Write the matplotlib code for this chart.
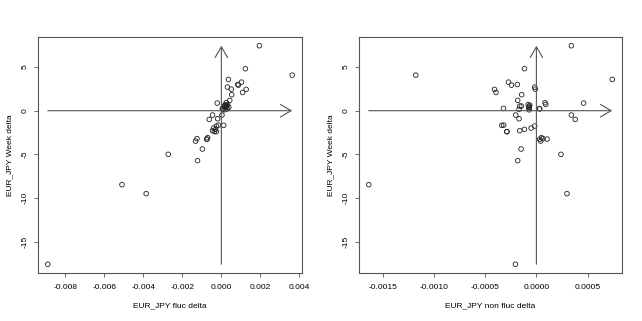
import matplotlib
matplotlib.use('Agg')
import matplotlib.pyplot as plt
import numpy as np

# semana (y) y deltas de fluc / non fluc (x)
week_delta = [7.44, 4.07, 4.81, 3.58, 3.27, 2.93, 3.00, 2.70, 2.47, 2.44,
              2.09, 1.83, 1.18, 0.87, 0.92, 0.72, 0.26, 0.53, 0.53, 0.15,
              0.10, 0.30, 0.50, 0.62, 0.70, 0.20, 0.25, 0.40, -0.50, -0.50,
              -1.00, -0.92, -1.68, -1.65, -1.76, -1.99, -2.14, -2.29, -2.40, -2.40,
              -3.09, -3.28, -3.20, -3.48, -3.25, -4.39, -5.00, -5.72, -8.47, -9.50,
              -17.59]
fluc_delta = [0.00195, 0.00363, 0.00123, 0.00036, 0.00103, 0.00087, 0.00084, 0.00031, 0.00051, 0.00127,
              0.00109, 0.00053, 0.00043, -0.00021, 0.00025, 0.00032, 0.00005, 0.00018, 0.00028, 0.00008,
              0.00015, 0.00022, 0.00012, 0.00026, 0.00020, 0.00030, 0.00010, 0.00038, -0.00045, 0.00003,
              -0.00062, -0.00019, 0.00012, -0.00015, -0.00025, -0.00040, -0.00030, -0.00045, -0.00026, -0.00036,
              -0.00070, -0.00075, -0.00125, -0.00132, -0.00074, -0.00097, -0.00272, -0.00122, -0.00509, -0.00385,
              -0.00889]
non_fluc_delta = [0.000342, -0.00118, -0.000117, 0.000742, -0.000273, -0.000244, -0.000186, -0.000017, -0.00001, -0.00041,
                  -0.000395, -0.000144, -0.000183, 0.000462, 0.000084, 0.000091, -0.000322, -0.000163, -0.000146, -0.00017,
                  -0.00007, -0.000075, -0.00007, -0.000065, -0.00008, 0.000032, 0.00003, -0.00007, -0.000202, 0.000342,
                  0.00038, -0.00017, -0.000339, -0.00032, -0.000017, -0.000052, -0.000117, -0.000163, -0.000288, -0.00029,
                  0.000049, 0.000032, 0.000064, 0.000042, 0.000104, -0.00015, 0.00024, -0.000183, -0.00164, 0.000299,
                  -0.000205]

x_ticks1 = [-0.008, -0.006, -0.004, -0.002, 0.000, 0.002, 0.004]
x_ticks2 = [-0.0015, -0.0010, -0.0005, 0.0000, 0.0005]
y_ticks = [-15, -10, -5, 0, 5]

plt.rcParams['font.family'] = ['Liberation Sans', 'DejaVu Sans']
plt.rcParams['font.size'] = 6

gris = '#555555'

fig = plt.figure(figsize=(6.42, 3.21), dpi=100)
ax1 = fig.add_axes([38 / 642, 48 / 321, 264 / 642, 236 / 321])
ax2 = fig.add_axes([359 / 642, 48 / 321, 263 / 642, 236 / 321])


def dibuja(ax, x, y, ticks, fmt, etiqueta):
    x = np.array(x)
    y = np.array(y)
    ax.scatter(x, y, s=11, facecolors='none', edgecolors='#222222', linewidths=0.6, zorder=3)

    # limites como en R (4%)
    dx = (x.max() - x.min()) * 0.04
    dy = (y.max() - y.min()) * 0.04
    ax.set_xlim(x.min() - dx, x.max() + dx)
    ax.set_ylim(y.min() - dy, y.max() + dy)

    # flechas de los ejes
    estilo = dict(arrowstyle='->,head_length=0.77,head_width=0.45', mutation_scale=10,
                  color=gris, lw=0.8, shrinkA=0, shrinkB=0)
    ax.annotate('', xy=(x.max(), 0), xytext=(x.min(), 0), arrowprops=estilo)
    ax.annotate('', xy=(0, y.max()), xytext=(0, y.min()), arrowprops=estilo)

    ax.set_xticks(ticks)
    ax.set_xticklabels([fmt % t for t in ticks])
    ax.set_yticks(y_ticks)
    ax.set_yticklabels([str(t) for t in y_ticks], rotation=90, va='center')
    ax.tick_params(axis='x', length=3, width=0.6, color=gris, pad=5)
    ax.tick_params(axis='y', length=3, width=0.6, color=gris, pad=4)
    for s in ax.spines.values():
        s.set_color(gris)
        s.set_linewidth(0.8)

    ax.set_xlabel(etiqueta, labelpad=8)
    ax.set_ylabel('EUR_JPY Week delta', labelpad=6)


dibuja(ax1, fluc_delta, week_delta, x_ticks1, '%.3f', 'EUR_JPY fluc delta')
dibuja(ax2, non_fluc_delta, week_delta, x_ticks2, '%.4f', 'EUR_JPY non fluc delta')

plt.savefig('out.png', dpi=100)
